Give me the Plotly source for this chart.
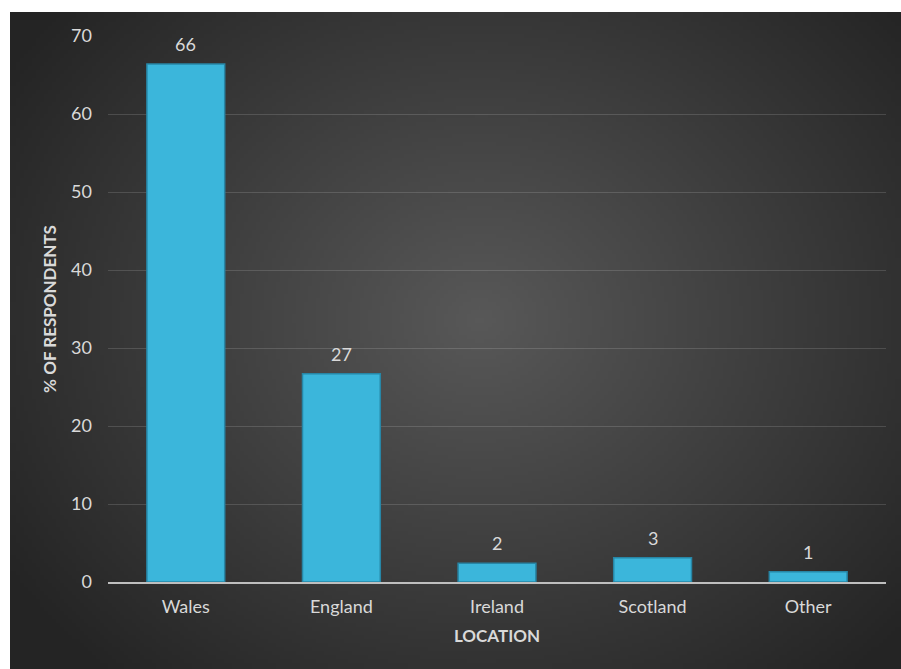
import base64, struct, zlib
import plotly.graph_objects as go

# ---- data ----
locations = ["Wales", "England", "Ireland", "Scotland", "Other"]
percent = [66.4, 26.7, 2.4, 3.1, 1.3]
y_ticks = [0, 10, 20, 30, 40, 50, 60, 70]

W, H = 901, 669
ML, MR, MT, MB = 108, 15, 36, 87
PW, PH = W - ML - MR, H - MT - MB

# ---- radial gradient background as a PNG (drawn region x 10..901, y 12..669) ----
BX0, BY0, BX1, BY1 = 10, 12, 901, 669
iw, ih = 223, 164
cx, cy = 480, 320
rows = []
for j in range(ih):
    py = BY0 + (j + 0.5) * (BY1 - BY0) / ih
    row = bytearray([0])
    for i in range(iw):
        px = BX0 + (i + 0.5) * (BX1 - BX0) / iw
        r = (((px - cx) / 1.0) ** 2 + ((py - cy) / 0.85) ** 2) ** 0.5
        t = min(r / 560.0, 1.0)
        v = int(round(88 - (88 - 36) * t))
        row += bytes([v, v, v])
    rows.append(bytes(row))
raw = b"".join(rows)

def chunk(tag, data):
    c = struct.pack(">I", len(data)) + tag + data
    return c + struct.pack(">I", zlib.crc32(tag + data) & 0xffffffff)

png = b"\x89PNG\r\n\x1a\n" + chunk(b"IHDR", struct.pack(">IIBBBBB", iw, ih, 8, 2, 0, 0, 0)) \
    + chunk(b"IDAT", zlib.compress(raw, 9)) + chunk(b"IEND", b"")
uri = "data:image/png;base64," + base64.b64encode(png).decode()

FONT = "Lato"
TXT = "#d9d9d9"

fig = go.Figure()
fig.add_trace(go.Bar(
    x=locations, y=percent,
    marker=dict(color="#3bb6db", line=dict(color="#2786a6", width=1.5)),
    cliponaxis=False, width=0.5,
))

for loc, val in zip(locations, percent):
    fig.add_annotation(
        x=loc, y=val, text=f"{val:.0f}", showarrow=False,
        yanchor="middle", yshift=20,
        font=dict(family=FONT, size=18, color=TXT),
    )

fig.add_layout_image(dict(
    source=uri, xref="paper", yref="paper",
    x=(BX0 - ML) / PW, y=1 + (MT - BY0) / PH,
    sizex=(BX1 - BX0) / PW, sizey=(BY1 - BY0) / PH,
    sizing="stretch", xanchor="left", yanchor="top", layer="below",
))

fig.update_layout(
    width=W, height=H,
    margin=dict(l=ML, r=MR, t=MT, b=MB, pad=0),
    paper_bgcolor="white", plot_bgcolor="rgba(0,0,0,0)",
    showlegend=False,
    font=dict(family=FONT, color=TXT),
)
fig.update_yaxes(
    range=[0, 70], tickvals=y_ticks, showgrid=True,
    gridcolor="rgba(255,255,255,0.14)", gridwidth=1.3,
    zeroline=False, showline=False,
    tickfont=dict(family=FONT, size=18, color=TXT),
    ticklabelstandoff=15,
    title=dict(text="<b>% OF RESPONDENTS</b>", font=dict(family=FONT, size=17, color=TXT), standoff=10),
)
fig.update_xaxes(
    showline=True, linecolor="#bfbfbf", linewidth=1.6,
    showgrid=False, ticks="",
    tickfont=dict(family=FONT, size=18, color=TXT),
    ticklabelstandoff=8,
    title=dict(text="<b>LOCATION</b>", font=dict(family=FONT, size=17, color=TXT), standoff=14),
)

fig.write_html("out.html")
